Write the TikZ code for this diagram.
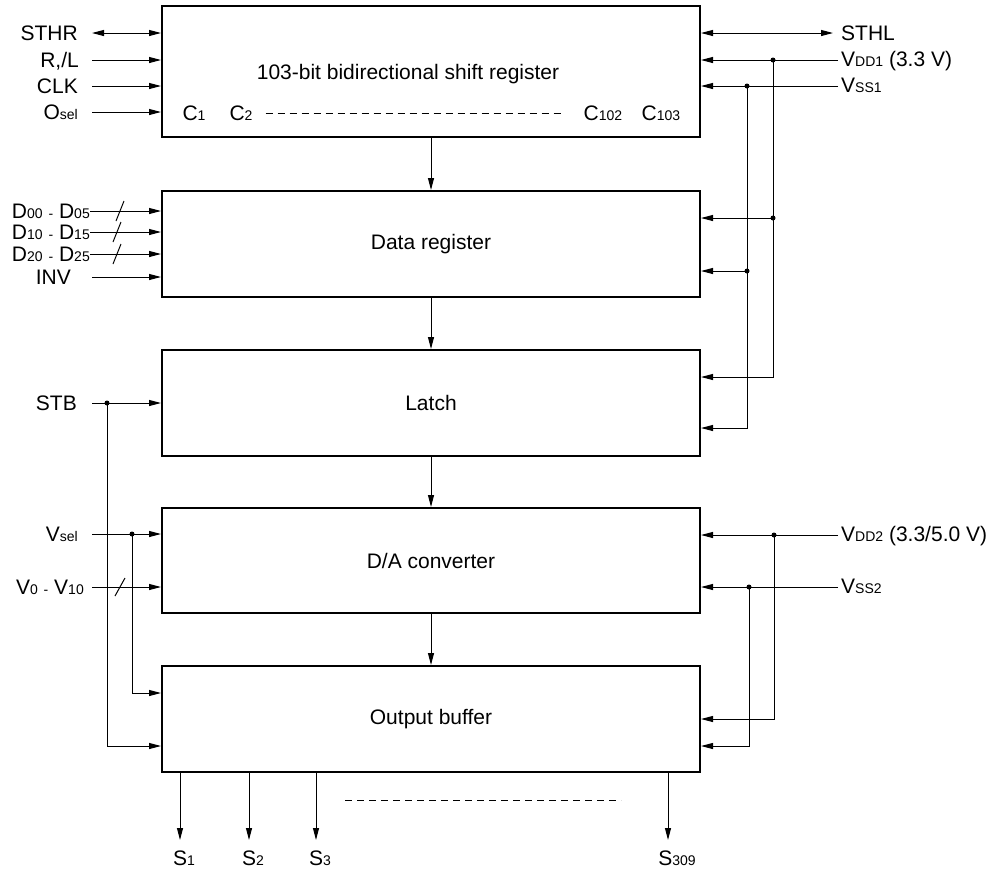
\documentclass[tikz,border=0pt]{standalone}
\usepackage{fontspec}
\setmainfont{Liberation Sans}
\usetikzlibrary{arrows.meta,positioning,calc}
\newcommand{\lsub}[1]{{\fontsize{14}{14}\selectfont #1}}
\tikzset{
  block/.style={draw,line width=2pt,minimum width=538pt,inner sep=0pt,
                font=\fontsize{21}{24}\selectfont},
  wire/.style={line width=1pt},
  arr/.style={wire,-{Triangle[length=12pt,width=6pt]}},
  dblarr/.style={wire,{Triangle[length=12pt,width=6pt]}-{Triangle[length=12pt,width=6pt]}},
  lbl/.style={inner sep=0pt,text height=15pt,text depth=0pt,
              font=\fontsize{21}{24}\selectfont},
  junc/.style={circle,fill,inner sep=0pt,minimum size=5pt},
  dots/.style={wire,dash pattern=on 7pt off 5pt}
}

\begin{document}
\begin{tikzpicture}[x=1pt,y=-1pt]
  \path[use as bounding box] (0,0) rectangle (1002,879);

  % blocks
  \node[block,minimum height=131pt] (shreg) at (431,71.5) {};
  \node[lbl] (shregtxt) at (408,72) {103-bit bidirectional shift register};
  \node[block,minimum height=106pt] (datreg) at (431,244) {Data register};
  \node[block,minimum height=106pt] (latch) at (431,403) {Latch};
  \node[block,minimum height=105pt] (dac) at (431,560.5) {D/A converter};
  \node[block,minimum height=106pt] (outbuf) at (431,719) {Output buffer};

  \draw[arr] (shreg) -- (datreg);
  \draw[arr] (datreg) -- (latch);
  \draw[arr] (latch) -- (dac);
  \draw[arr] (dac) -- (outbuf);

  % shift register taps
  \node[lbl] (c1) at (194,113) {C\lsub{1}};
  \node[lbl] (c2) at (241,113) {C\lsub{2}};
  \node[lbl] (c102) at (603,113) {C\lsub{102}};
  \node[lbl] (c103) at (661,113) {C\lsub{103}};
  \draw[dots] ([xshift=13pt]c2.east) -- ([xshift=-18pt]c102.west);

  % shift register inputs
  \coordinate (pSTHR) at (92,33);
  \coordinate (pRL) at (92,60);
  \coordinate (pCLK) at (92,86);
  \coordinate (pOsel) at (92,112);
  \node[lbl,anchor=east] (tSTHR) at (78,33) {STHR};
  \node[lbl,anchor=east] (tRL) at (79,60) {R,/L};
  \node[lbl,anchor=east] (tCLK) at (78,86) {CLK};
  \node[lbl,anchor=east] (tOsel) at (78,112) {O\lsub{sel}};
  \draw[dblarr] (pSTHR) -- (shreg.west |- pSTHR);
  \draw[arr] (pRL) -- (shreg.west |- pRL);
  \draw[arr] (pCLK) -- (shreg.west |- pCLK);
  \draw[arr] (pOsel) -- (shreg.west |- pOsel);

  % data register inputs
  \node[lbl,anchor=east] (tD0) at (90,211) {D\lsub{00} \lsub{-} D\lsub{05}};
  \node[lbl,anchor=east] (tD1) at (90,232) {D\lsub{10} \lsub{-} D\lsub{15}};
  \node[lbl,anchor=east] (tD2) at (90,254) {D\lsub{20} \lsub{-} D\lsub{25}};
  \node[lbl,anchor=east] (tINV) at (71,277) {INV};
  \coordinate (pINV) at (92,277);
  \draw[arr] (tD0.east) -- (datreg.west |- tD0);
  \draw[arr] (tD1.east) -- (datreg.west |- tD1);
  \draw[arr] (tD2.east) -- (datreg.west |- tD2);
  \draw[arr] (pINV) -- (datreg.west |- pINV);
  \foreach \y/\x in {211/120,232/117,254/117}
    \draw[wire] (\x-4,\y+10) -- (\x+4,\y-10);

  % STB, Vsel, V0-V10
  \node[lbl,anchor=east] (tSTB) at (77,403) {STB};
  \node[lbl,anchor=east] (tVsel) at (78,534) {V\lsub{sel}};
  \node[lbl,anchor=east] (tVref) at (84,587) {V\lsub{0} \lsub{-} V\lsub{10}};
  \coordinate (pSTB) at (92,403);
  \coordinate (pVsel) at (92,534);
  \coordinate (pVref) at (92,587);
  \coordinate (jSTB) at (107,403);
  \coordinate (jVsel) at (132,534);
  \draw[arr] (pSTB) -- (latch.west |- pSTB);
  \draw[arr] (jSTB) |- ([yshift=-27pt]outbuf.west);
  \draw[arr] (pVsel) -- (dac.west |- pVsel);
  \draw[arr] (jVsel) |- ([yshift=26pt]outbuf.west);
  \draw[arr] (pVref) -- (dac.west |- pVref);
  \draw[wire] (115,596) -- (125,578);
  \node[junc] (dSTB) at (jSTB) {};
  \node[junc] (dVsel) at (jVsel) {};

  % right side supply 1
  \coordinate (pSTHL) at (833,33);
  \coordinate (pVDD1) at (838,60);
  \coordinate (pVSS1) at (838,86);
  \node[lbl,anchor=west] (tSTHL) at (841,33) {STHL};
  \node[lbl,anchor=west] (tVDD1) at (841,59) {V\lsub{DD1} (3.3 V)};
  \node[lbl,anchor=west] (tVSS1) at (841,85) {V\lsub{SS1}};
  \draw[dblarr] (shreg.east |- pSTHL) -- (pSTHL);
  \draw[arr] (pVDD1) -- (shreg.east |- pVDD1);
  \draw[arr] (pVSS1) -- (shreg.east |- pVSS1);
  \coordinate (jVDD1) at (773,60);
  \coordinate (jVDD1b) at (773,218);
  \coordinate (jVSS1) at (747,86);
  \coordinate (jVSS1b) at (747,271);
  \draw[wire] (jVDD1) -- (jVDD1b);
  \draw[arr] (jVDD1b) -- (datreg.east |- jVDD1b);
  \draw[arr] (jVDD1b) |- ([yshift=26pt]latch.east);
  \draw[wire] (jVSS1) -- (jVSS1b);
  \draw[arr] (jVSS1b) -- (datreg.east |- jVSS1b);
  \draw[arr] (jVSS1b) |- ([yshift=-25pt]latch.east);
  \foreach \j in {jVDD1,jVDD1b,jVSS1,jVSS1b}
    \node[junc] (d\j) at (\j) {};

  % right side supply 2
  \coordinate (pVDD2) at (838,535);
  \coordinate (pVSS2) at (838,587);
  \node[lbl,anchor=west] (tVDD2) at (841,534) {V\lsub{DD2} (3.3/5.0 V)};
  \node[lbl,anchor=west] (tVSS2) at (841,586) {V\lsub{SS2}};
  \draw[arr] (pVDD2) -- (dac.east |- pVDD2);
  \draw[arr] (pVSS2) -- (dac.east |- pVSS2);
  \coordinate (jVDD2) at (774,535);
  \coordinate (jVSS2) at (749,587);
  \draw[arr] (jVDD2) |- (outbuf.east);
  \draw[arr] (jVSS2) |- ([yshift=-27pt]outbuf.east);
  \node[junc] (djVDD2) at (jVDD2) {};
  \node[junc] (djVSS2) at (jVSS2) {};

  % outputs
  \foreach \n/\x in {1/180,2/249,3/316,309/668}{
    \coordinate (oS\n) at (\x,840);
    \draw[arr] (outbuf.south -| oS\n) -- (oS\n);
  }
  \node[lbl] (tS1) at (184,858) {S\lsub{1}};
  \node[lbl] (tS2) at (253,858) {S\lsub{2}};
  \node[lbl] (tS3) at (320,858) {S\lsub{3}};
  \node[lbl] (tS309) at (677,858) {S\lsub{309}};
  \coordinate (dotsL) at (345,800);
  \coordinate (dotsR) at (621,800);
  \draw[dots] (dotsL) -- (dotsR);
\end{tikzpicture}
\end{document}
